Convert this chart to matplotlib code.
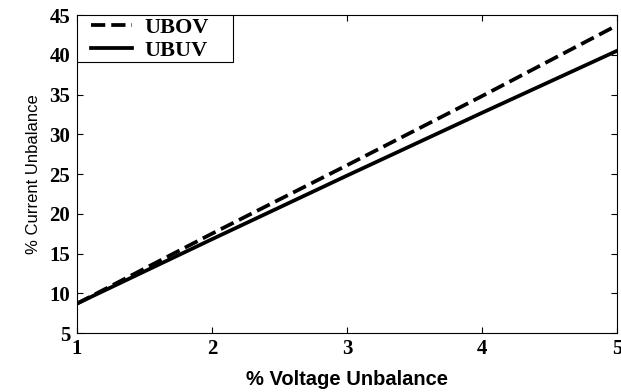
import numpy as np
import matplotlib
matplotlib.use("Agg")
import matplotlib.pyplot as plt
from matplotlib import patches as mpatches

# % voltage unbalance
vu = [1, 2, 3, 4, 5]
# % current unbalance
ubov = [8.7, 17.5, 26.1, 34.8, 43.7]
ubuv = [8.7, 16.8, 24.8, 32.7, 40.5]

fig = plt.figure(figsize=(6.21, 3.92), dpi=100)
ax = fig.add_axes([0.124, 0.1505, 0.8696, 0.8112])

ax.plot(vu, ubov, 'k--', lw=2.7, dashes=(3.8, 1.6), label='UBOV')
ax.plot(vu, ubuv, 'k-', lw=2.7, label='UBUV')

ax.set_xlim(1, 5)
ax.set_ylim(5, 45)
ax.set_xticks([1, 2, 3, 4, 5])
ax.set_yticks(range(5, 46, 5))
ax.tick_params(direction='in', length=4, width=0.8, top=True, right=True)
for lab in ax.get_xticklabels() + ax.get_yticklabels():
    lab.set_family('Liberation Serif')
    lab.set_fontweight('bold')
    lab.set_fontsize(15)
ax.tick_params(axis='x', pad=4)
ax.tick_params(axis='y', pad=5)

ax.set_xlabel('% Voltage Unbalance', fontsize=14.5, fontweight='bold',
              family='Liberation Sans', labelpad=8)
ax.set_ylabel('% Current Unbalance', fontsize=12,
              family='Liberation Sans', labelpad=6)

# MATLAB-style legend box: wider horizontal padding than vertical
box = mpatches.Rectangle((0, 0.852), 0.289, 0.148, transform=ax.transAxes,
                         facecolor='white', edgecolor='k', lw=0.8, zorder=4)
ax.add_patch(box)
leg = ax.legend(loc='upper left', bbox_to_anchor=(0.026, 0.992),
                prop={'family': 'Liberation Serif', 'weight': 'bold', 'size': 16},
                frameon=False, borderaxespad=0, borderpad=0, handlelength=1.85,
                handletextpad=0.55, labelspacing=0.1)
leg.set_zorder(5)

fig.savefig('out.png', dpi=100)
